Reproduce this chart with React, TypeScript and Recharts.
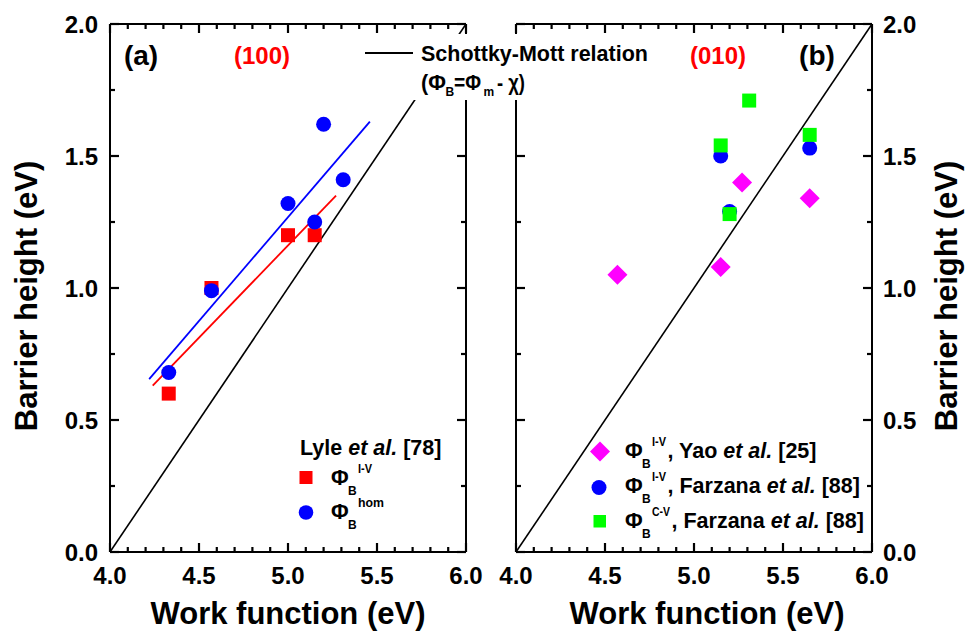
import React from 'react';
import { ScatterChart, Scatter, XAxis, YAxis } from 'recharts';

const FONT = '"Liberation Sans", Arial, Helvetica, sans-serif';

// ---- axis ticks / tick labels ----
const xTicks = [4.0, 4.1, 4.2, 4.3, 4.4, 4.5, 4.6, 4.7, 4.8, 4.9, 5.0, 5.1, 5.2, 5.3, 5.4, 5.5, 5.6, 5.7, 5.8, 5.9, 6.0];
const yTicks = [0.0, 0.25, 0.5, 0.75, 1.0, 1.25, 1.5, 1.75, 2.0];
const xDomain = [4.0, 6.0];
const yDomain = [0.0, 2.0];

// ---- panel (a): (100), Lyle et al. [78] ----
const lyleIV = [
  { x: 4.33, y: 0.60 },
  { x: 4.57, y: 1.00 },
  { x: 5.00, y: 1.20 },
  { x: 5.15, y: 1.20 },
];
const lyleHom = [
  { x: 4.33, y: 0.68 },
  { x: 4.57, y: 0.99 },
  { x: 5.00, y: 1.32 },
  { x: 5.15, y: 1.25 },
  { x: 5.20, y: 1.62 },
  { x: 5.31, y: 1.41 },
];
const lyleIVFit = [
  { x: 4.24, y: 0.63 },
  { x: 5.27, y: 1.35 },
];
const lyleHomFit = [
  { x: 4.22, y: 0.655 },
  { x: 5.46, y: 1.63 },
];

// ---- Schottky-Mott relation (both panels) ----
const schottkyMott = [
  { x: 4.0, y: 0.0 },
  { x: 6.0, y: 2.0 },
];

// ---- panel (b): (010) ----
const yaoIV = [
  { x: 4.57, y: 1.05 },
  { x: 5.15, y: 1.08 },
  { x: 5.27, y: 1.40 },
  { x: 5.65, y: 1.34 },
];
const farzanaIV = [
  { x: 5.15, y: 1.50 },
  { x: 5.20, y: 1.29 },
  { x: 5.65, y: 1.53 },
];
const farzanaCV = [
  { x: 5.15, y: 1.54 },
  { x: 5.20, y: 1.28 },
  { x: 5.31, y: 1.71 },
  { x: 5.65, y: 1.58 },
];

const RED = '#ff0000';
const BLUE = '#0000ff';
const MAGENTA = '#ff00ff';
const GREEN = '#00ff00';

const isMajor = (v: number) => Math.abs(v * 2 - Math.round(v * 2)) < 1e-6;
const MAJOR = 9;
const MINOR = 5;

const tickText = (x: number, y: number, anchor: string, label: string) => (
  <text x={x} y={y} textAnchor={anchor as any} fontFamily={FONT} fontWeight="bold" fontSize={24} fill="#000">
    {label}
  </text>
);

// Inward tick marks (long for majors, short for minors) plus labels on majors.
function makeTick(side: 'bottom' | 'top' | 'left' | 'right', showLabel: boolean) {
  return (props: any) => {
    const { x, y, payload } = props;
    const v = Number(payload.value);
    const major = isMajor(v);
    const len = major ? MAJOR : MINOR;
    let x2 = x;
    let y2 = y;
    let label: any = null;
    if (side === 'bottom') {
      y2 = y - len;
      if (showLabel && major) label = tickText(x, y + 31.6, 'middle', v.toFixed(1));
    } else if (side === 'top') {
      y2 = y + len;
    } else if (side === 'left') {
      x2 = x + len;
      if (showLabel && major) label = tickText(x - 12, y + 8.6, 'end', v.toFixed(1));
    } else {
      x2 = x - len;
      if (showLabel && major) label = tickText(x + 11, y + 8.6, 'start', v.toFixed(1));
    }
    return (
      <g>
        <path d={`M${x},${y}L${x2},${y2}`} stroke="#000" strokeWidth={2.2} fill="none" />
        {label}
      </g>
    );
  };
}

const axisLine = { stroke: '#000', strokeWidth: 2 };

const noShape = () => <g />;
const squareShape = (fill: string, half: number) => (p: any) => (
  <rect x={p.cx - half} y={p.cy - half} width={2 * half} height={2 * half} fill={fill} />
);
const circleShape = (fill: string, r: number) => (p: any) => <circle cx={p.cx} cy={p.cy} r={r} fill={fill} />;
const diamondShape = (fill: string, h: number) => (p: any) => (
  <polygon
    points={`${p.cx},${p.cy - h} ${p.cx + h},${p.cy} ${p.cx},${p.cy + h} ${p.cx - h},${p.cy}`}
    fill={fill}
  />
);

const common = {
  type: 'number' as const,
  interval: 0 as const,
  allowDataOverflow: true,
  axisLine,
  tickLine: false,
  tickSize: 0,
  tickMargin: 0,
};

function frameAxes(labelSide: 'left' | 'right') {
  return [
    <XAxis key="xb" xAxisId="b" dataKey="x" domain={xDomain} ticks={xTicks} orientation="bottom" height={40} {...common} tick={makeTick('bottom', true)} />,
    <XAxis key="xt" xAxisId="t" dataKey="x" domain={xDomain} ticks={xTicks} orientation="top" height={10} {...common} tick={makeTick('top', false)} />,
    <YAxis
      key="yl"
      yAxisId="l"
      dataKey="y"
      domain={yDomain}
      ticks={yTicks}
      orientation="left"
      width={labelSide === 'left' ? 60 : 10}
      {...common}
      tick={makeTick('left', labelSide === 'left')}
    />,
    <YAxis
      key="yr"
      yAxisId="r"
      dataKey="y"
      domain={yDomain}
      ticks={yTicks}
      orientation="right"
      width={labelSide === 'right' ? 60 : 10}
      {...common}
      tick={makeTick('right', labelSide === 'right')}
    />,
  ];
}

const txt = { fontFamily: FONT, fontWeight: 'bold' as const, fill: '#000' };

const supLen: Record<string, number> = { 'I-V': 14, 'C-V': 18, hom: 26 };

function PhiLabel({ x, y, sup, children }: { x: number; y: number; sup: string; children?: any }) {
  const sl = supLen[sup] ?? 14;
  return (
    <g>
      <text x={x} y={y} fontSize={21.5} {...txt}>Φ</text>
      <text x={x + 17} y={y + 9.5} fontSize={12} {...txt}>B</text>
      <text x={x + 27} y={y - 12} fontSize={13} textLength={sl} lengthAdjust="spacingAndGlyphs" {...txt}>{sup}</text>
      {children ? (
        <text x={x + 27 + sl + 1.5} y={y} fontSize={21.5} {...txt}>
          {children}
        </text>
      ) : null}
    </g>
  );
}

export default function App() {
  return (
    <div style={{ position: 'absolute', left: 0, top: 0, width: 977, height: 632, background: '#fff', overflow: 'hidden' }}>
      {/* Panel (a) */}
      <div style={{ position: 'absolute', left: 0, top: 0, width: 490, height: 632 }}>
        <ScatterChart width={490} height={632} margin={{ top: 14, right: 14, bottom: 40, left: 50 }}>
          {frameAxes('left')}
          <Scatter xAxisId="b" yAxisId="l" data={schottkyMott} line={{ stroke: '#000', strokeWidth: 1.6 }} shape={noShape} isAnimationActive={false} />
          <Scatter xAxisId="b" yAxisId="l" data={lyleIVFit} line={{ stroke: RED, strokeWidth: 1.8 }} shape={noShape} isAnimationActive={false} />
          <Scatter xAxisId="b" yAxisId="l" data={lyleHomFit} line={{ stroke: BLUE, strokeWidth: 1.8 }} shape={noShape} isAnimationActive={false} />
          <Scatter xAxisId="b" yAxisId="l" data={lyleIV} shape={squareShape(RED, 7)} isAnimationActive={false} />
          <Scatter xAxisId="b" yAxisId="l" data={lyleHom} shape={circleShape(BLUE, 7.5)} isAnimationActive={false} />
        </ScatterChart>
      </div>
      {/* Panel (b) */}
      <div style={{ position: 'absolute', left: 490, top: 0, width: 487, height: 632 }}>
        <ScatterChart width={487} height={632} margin={{ top: 14, right: 45, bottom: 40, left: 16 }}>
          {frameAxes('right')}
          <Scatter xAxisId="b" yAxisId="l" data={schottkyMott} line={{ stroke: '#000', strokeWidth: 1.6 }} shape={noShape} isAnimationActive={false} />
          <Scatter xAxisId="b" yAxisId="l" data={yaoIV} shape={diamondShape(MAGENTA, 10)} isAnimationActive={false} />
          <Scatter xAxisId="b" yAxisId="l" data={farzanaIV} shape={circleShape(BLUE, 7.5)} isAnimationActive={false} />
          <Scatter xAxisId="b" yAxisId="l" data={farzanaCV} shape={squareShape(GREEN, 7)} isAnimationActive={false} />
        </ScatterChart>
      </div>
      {/* Annotations overlay */}
      <svg width={977} height={632} style={{ position: 'absolute', left: 0, top: 0, pointerEvents: 'none' }}>
        {/* Schottky-Mott legend box */}
        <rect x={358} y={34} width={174} height={66} fill="#fff" />
        <line x1={365} y1={53} x2={413} y2={53} stroke="#000" strokeWidth={2} />
        <text x={421} y={60.5} fontSize={21.5} {...txt}>Schottky-Mott relation</text>
        <text x={421} y={90} fontSize={21.5} {...txt}>(Φ</text>
        <text x={445.5} y={96} fontSize={12} {...txt}>B</text>
        <text x={454} y={90} fontSize={21.5} textLength={27} lengthAdjust="spacingAndGlyphs" {...txt}>=Φ</text>
        <text x={483.5} y={96} fontSize={12} {...txt}>m</text>
        <text x={497} y={90} fontSize={21.5} textLength={28} lengthAdjust="spacingAndGlyphs" {...txt}>- χ)</text>

        {/* panel labels */}
        <text x={141} y={64.5} fontSize={28} textAnchor="middle" {...txt}>(a)</text>
        <text x={262} y={63.7} fontSize={24} textAnchor="middle" {...txt} fill={RED}>(100)</text>
        <text x={718} y={63.7} fontSize={24} textAnchor="middle" {...txt} fill={RED}>(010)</text>
        <text x={817} y={64.5} fontSize={28} textAnchor="middle" {...txt}>(b)</text>

        {/* axis titles */}
        <text x={288} y={623.5} fontSize={31} textAnchor="middle" {...txt}>Work function (eV)</text>
        <text x={707} y={623.5} fontSize={31} textAnchor="middle" {...txt}>Work function (eV)</text>
        <text transform="translate(37,296) rotate(-90)" x={0} y={0} fontSize={31} textAnchor="middle" {...txt}>Barrier height (eV)</text>
        <text transform="translate(957,296) rotate(-90)" x={0} y={0} fontSize={31} textAnchor="middle" {...txt}>Barrier height (eV)</text>

        {/* legend (a) */}
        <text x={300} y={454.5} fontSize={21.5} {...txt}>
          Lyle <tspan fontStyle="italic">et al.</tspan> [78]
        </text>
        <rect x={299.5} y={471} width={13} height={13} fill={RED} />
        <PhiLabel x={331} y={485} sup="I-V" />
        <circle cx={306} cy={512.5} r={7.3} fill={BLUE} />
        <PhiLabel x={331} y={519} sup="hom" />

        {/* legend (b) */}
        <polygon points="600,441.5 610,451.5 600,461.5 590,451.5" fill={MAGENTA} />
        <PhiLabel x={625} y={458} sup="I-V">
          , Yao <tspan fontStyle="italic">et al.</tspan> [25]
        </PhiLabel>
        <circle cx={599} cy={487.5} r={7.5} fill={BLUE} />
        <PhiLabel x={625} y={493} sup="I-V">
          , Farzana <tspan fontStyle="italic">et al.</tspan> [88]
        </PhiLabel>
        <rect x={593.5} y={515} width={12.5} height={12.5} fill={GREEN} />
        <PhiLabel x={625} y={528} sup="C-V">
          , Farzana <tspan fontStyle="italic">et al.</tspan> [88]
        </PhiLabel>
      </svg>
    </div>
  );
}
